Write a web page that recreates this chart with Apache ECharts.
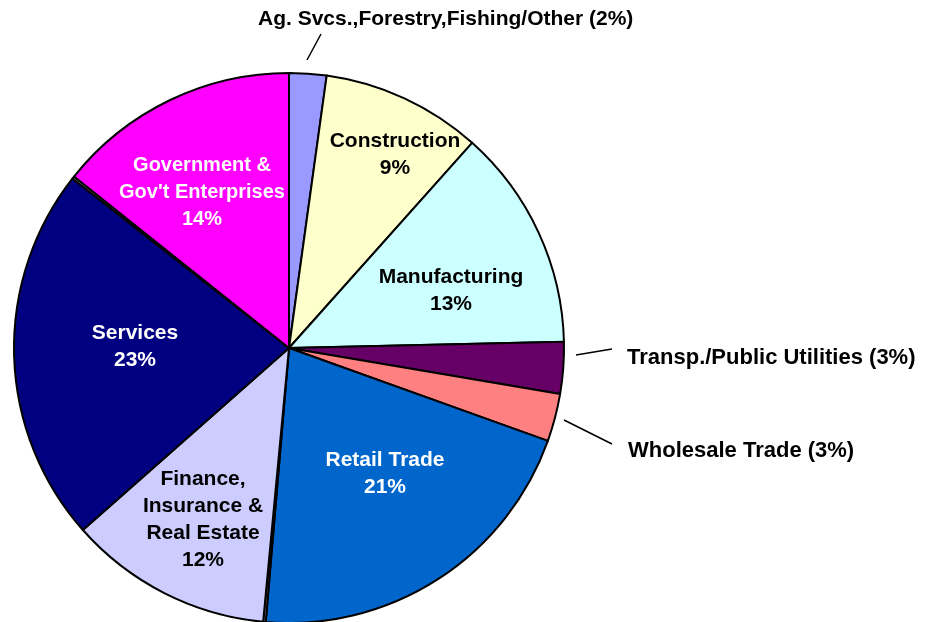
<!DOCTYPE html>
<html>
<head>
<meta charset="utf-8">
<script src="https://cdn.jsdelivr.net/npm/echarts@6/dist/echarts.min.js"></script>
<style>
  html, body { margin: 0; padding: 0; background: #fff; }
  #pieChart { width: 925px; height: 622px; }
</style>
</head>
<body>
<div id="pieChart"></div>
<script>
// slices clockwise from 12 o'clock (two thin unlabeled slivers as in the source)
const sectors = ['Ag. Svcs.,Forestry,Fishing/Other', 'Construction', 'Manufacturing',
  'Transp./Public Utilities', 'Wholesale Trade', 'Retail Trade', 'Other A',
  'Finance, Insurance & Real Estate', 'Services', 'Other B', 'Government & Gov\'t Enterprises']
const shares = [2.19, 9.42, 13.06, 3.03, 2.81, 20.89, 0.15, 12.0, 22.1, 0.15, 14.3]
const labels = [
  'Ag. Svcs.,Forestry,Fishing/Other (2%)',
  'Construction\n9%',
  'Manufacturing\n13%',
  'Transp./Public Utilities (3%)',
  'Wholesale Trade (3%)',
  'Retail Trade\n21%',
  '',
  'Finance,\nInsurance &\nReal Estate\n12%',
  'Services\n23%',
  '',
  'Government &\nGov\'t Enterprises\n14%'
]

const colors = ['#9999FF', '#FFFFCC', '#CCFFFF', '#660066', '#FF8080', '#0066CC',
  '#8C8C8C', '#CCCCFF', '#000080', '#8C8C8C', '#FF00FF']
const textColors = ['#000', '#000', '#000', '#000', '#000', '#fff', '#000', '#000', '#fff', '#000', '#fff']

// where each label sits, and leader lines for the outside ones
const labelPos = [
  { x: 258, y: 19, align: 'left', line: [[307, 60], [314, 47], [321, 34]] },
  { x: 395, y: 155, align: 'center' },
  { x: 451, y: 291, align: 'center' },
  { x: 627, y: 358, align: 'left', size: 22, line: [[576, 355], [594, 352], [612, 349]] },
  { x: 628, y: 451, align: 'left', size: 22, line: [[564, 420], [588, 432], [612, 444]] },
  { x: 385, y: 474, align: 'center' },
  null,
  { x: 203, y: 520, align: 'center' },
  { x: 135, y: 347, align: 'center' },
  null,
  { x: 202, y: 192, align: 'center', size: 20 }
]

const outside = [0, 3, 4]

function initChart() {
  const myChart = echarts.init(document.getElementById('pieChart'))
  const data = sectors.map((name, i) => ({
    name: name,
    value: shares[i],
    itemStyle: { color: colors[i] },
    label: {
      show: labels[i] !== '',
      formatter: labels[i],
      color: textColors[i],
      fontSize: (labelPos[i] && labelPos[i].size) || 21,
      position: outside.includes(i) ? 'outside' : 'inside'
    },
    labelLine: {
      show: outside.includes(i),
      lineStyle: { color: '#000', width: 1.5 }
    }
  }))

  const option = {
    animation: false,
    series: [
      {
        type: 'pie',
        center: [289, 348],
        radius: 275,
        startAngle: 90,
        clockwise: true,
        avoidLabelOverlap: false,
        silent: true,
        itemStyle: {
          borderColor: '#000',
          borderWidth: 2
        },
        label: {
          fontFamily: 'Liberation Sans, Arial, sans-serif',
          fontWeight: 'bold',
          fontSize: 21,
          lineHeight: 27,
          align: 'center'
        },
        labelLayout: (params) => {
          const p = labelPos[params.dataIndex]
          if (!p) return {}
          const res = { x: p.x, y: p.y, align: p.align, verticalAlign: 'middle' }
          if (p.line) res.labelLinePoints = p.line
          return res
        },
        data: data
      }
    ]
  }

  myChart.setOption(option, true)
}

initChart()
</script>
</body>
</html>
